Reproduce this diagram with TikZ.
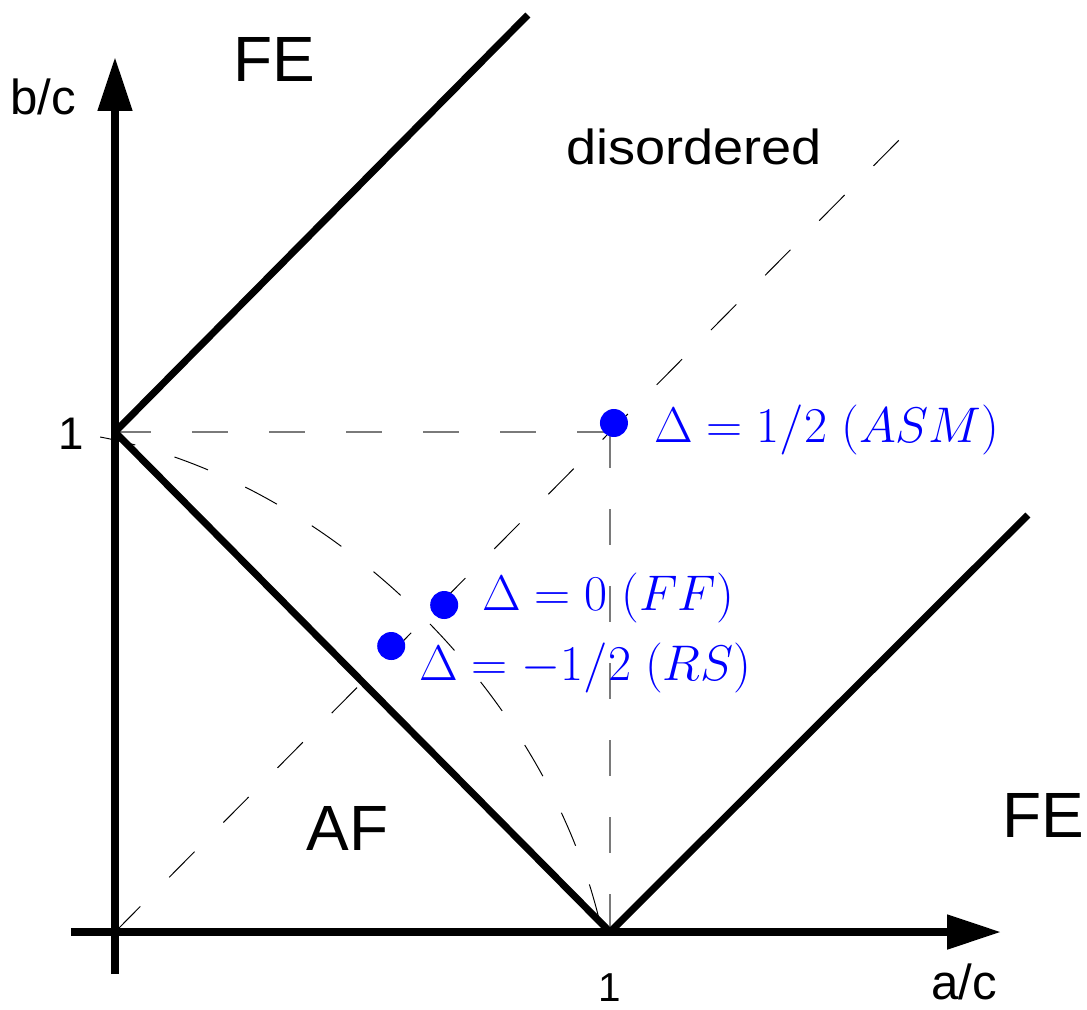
\RequirePackage{fix-cm}
\documentclass[tikz,border=0pt]{standalone}
\usepackage[no-math]{fontspec}
\setmainfont{Liberation Sans}
\usepackage{amsmath}
\usetikzlibrary{arrows.meta,positioning,calc}
\definecolor{dotblue}{HTML}{0000FF}
\definecolor{guidegray}{HTML}{7A7A7A}

\begin{document}
\begin{tikzpicture}[x=9.9cm,y=10cm,every node/.style={inner sep=0pt,font=\fontsize{28}{34}\selectfont},axisline/.style={line width=4.5pt,-{Triangle[length=30.7pt,width=18.8pt]}},phaseline/.style={line width=4pt},gridline/.style={draw=guidegray,line width=0.8pt,dash pattern=on 0.72cm off 0.82cm},dashline/.style={line width=0.55pt,dash pattern=on 0.72cm off 0.82cm},pointdot/.style={circle,fill=dotblue,minimum size=0.56cm},lbl/.style={text=dotblue,anchor=base west,font=\fontsize{28.5}{34}\selectfont},phase/.style={anchor=base west,font=\fontsize{36.4}{44}\selectfont}]
\useasboundingbox (-0.2323,-0.154) rectangle (1.9636,1.864);
\coordinate (O) at (0,0);
\coordinate (A1) at (1,0);
\coordinate (B1) at (0,1);
\coordinate (C) at (1,1);
\coordinate (xstart) at (-0.089,0);
\coordinate (xend) at (1.79,0);
\coordinate (ystart) at (0,-0.084);
\coordinate (yend) at (0,1.75);
% dashed guides
\draw[gridline] (B1)--(C);
\draw[gridline] (C)--(A1);
\draw[dashline] (O)--(1.585,1.585);
\draw[dashline] (-0.03,0.99) .. controls (0.45,0.9) and (0.9,0.45) .. (0.99,-0.03);
% phase boundaries
\draw[phaseline] (B1)--(0.834,1.834);
\draw[phaseline] (B1)--(A1);
\draw[phaseline] (A1)--(1.844,0.834);
% axes
\draw[axisline] (xstart)--(xend);
\draw[axisline] (ystart)--(yend);
\node[anchor=base west] (bc) at (-0.212,1.634) {b/c};
\node[anchor=base west] (ac) at (1.648,-0.134) {a/c};
\node[anchor=base west,font=\fontsize{23}{28}\selectfont] (xone) at (0.976,-0.138) {1};
\node[anchor=base west,font=\fontsize{26}{31}\selectfont] (yone) at (-0.115,0.964) {1};
% regions
\node[phase] (fetop) at (0.238,1.70) {FE};
\node[phase] (feright) at (1.792,0.19) {FE};
\node[phase] (af) at (0.386,0.164) {AF};
\node[anchor=base west] (dis) at (0.911,1.534) {\scalebox{1.1}[1]{disordered}};
% special points
\node[pointdot] (asm) at (1.008,1.018) {};
\node[pointdot] (ff) at (0.665,0.654) {};
\node[pointdot] (rs) at (0.558,0.572) {};
\node[lbl] (asmlbl) at (1.089,0.98) {$\Delta=1/2\;(ASM)$};
\node[lbl] (fflbl) at (0.741,0.644) {$\Delta=0\;(FF)$};
\node[lbl] (rslbl) at (0.614,0.504) {$\Delta=-1/2\;(RS)$};
\end{tikzpicture}
\end{document}
